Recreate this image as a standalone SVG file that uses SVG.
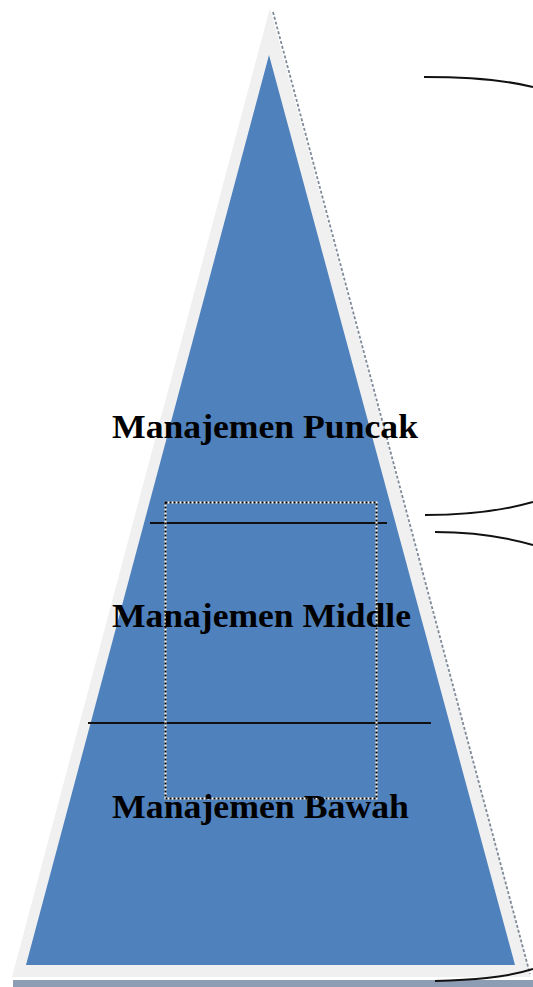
<svg xmlns="http://www.w3.org/2000/svg" width="533" height="987" viewBox="0 0 533 987">
<style>
.lbl{font-family:"Liberation Serif","Times New Roman",serif;font-weight:bold;font-size:34px;fill:#000}
.conn{fill:none;stroke:#111;stroke-width:2}
</style>
<rect x="0" y="0" width="533" height="987" fill="#fff"/>
<g id="pyramid">
<rect x="13" y="980" width="520" height="7" fill="#8d9db3"/>
<polygon points="270,8 531,977 12,977" fill="#f0f0f0"/>
<line x1="273" y1="12" x2="530" y2="974" stroke="#7f8a99" stroke-width="1.8" stroke-dasharray="3,2"/>
<polygon points="269,55 515,965 26,965" fill="#4f81bd"/>
</g>
<g id="dividers">
<line x1="150" y1="523" x2="387" y2="523" stroke="#111" stroke-width="2"/>
<line x1="88" y1="723" x2="431" y2="723" stroke="#111" stroke-width="2"/>
</g>
<g id="selection">
<rect x="165.5" y="502.5" width="211" height="296" fill="none" stroke="#fff" stroke-width="2"/>
<rect x="165.5" y="502.5" width="211" height="296" fill="none" stroke="#000" stroke-width="2" stroke-dasharray="2,2"/>
</g>
<g id="connectors">
<path class="conn" d="M424,77 C470,77 505,80 533,87"/>
<path class="conn" d="M425,515 C470,515 505,510 533,502"/>
<path class="conn" d="M435,532 C470,532 505,537 533,545"/>
<path class="conn" d="M435,981 C470,980 505,978 533,969"/>
</g>
<g id="node-puncak">
<text class="lbl" x="112" y="438" textLength="306" lengthAdjust="spacingAndGlyphs">Manajemen Puncak</text>
</g>
<g id="node-middle">
<text class="lbl" x="112" y="627" textLength="299" lengthAdjust="spacingAndGlyphs">Manajemen Middle</text>
</g>
<g id="node-bawah">
<text class="lbl" x="112" y="818" textLength="297" lengthAdjust="spacingAndGlyphs">Manajemen Bawah</text>
</g>
</svg>
